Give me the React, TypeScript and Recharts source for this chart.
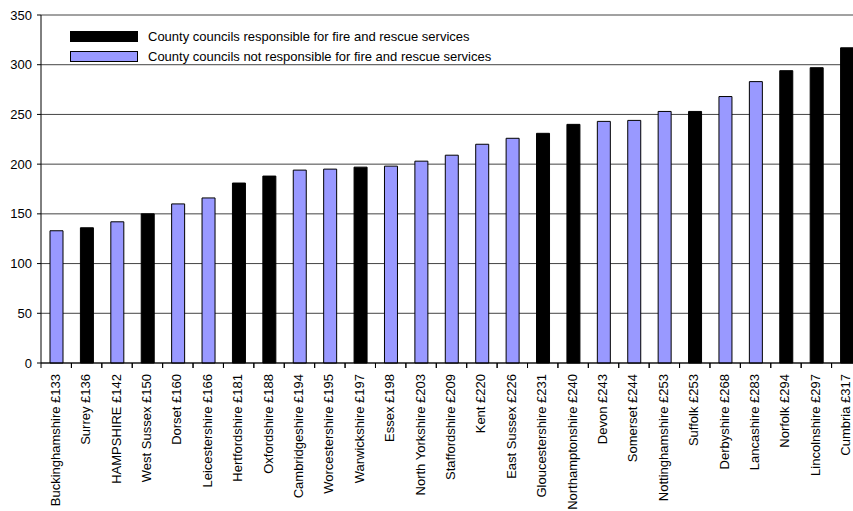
import { Bar, BarChart, CartesianGrid, Cell, Legend, XAxis, YAxis } from "recharts";

const councils = [
  "Buckinghamshire £133",
  "Surrey £136",
  "HAMPSHIRE £142",
  "West Sussex £150",
  "Dorset £160",
  "Leicestershire £166",
  "Hertfordshire £181",
  "Oxfordshire £188",
  "Cambridgeshire £194",
  "Worcestershire £195",
  "Warwickshire £197",
  "Essex £198",
  "North Yorkshire £203",
  "Staffordshire £209",
  "Kent £220",
  "East Sussex £226",
  "Gloucestershire £231",
  "Northamptonshire £240",
  "Devon £243",
  "Somerset £244",
  "Nottinghamshire £253",
  "Suffolk £253",
  "Derbyshire £268",
  "Lancashire £283",
  "Norfolk £294",
  "Lincolnshire £297",
  "Cumbria £317",
];

const spend = [
  133, 136, 142, 150, 160, 166, 181, 188, 194, 195, 197, 198, 203, 209, 220,
  226, 231, 240, 243, 244, 253, 253, 268, 283, 294, 297, 317,
];

// true = council also runs fire and rescue
const fireService = [
  false, true, false, true, false, false, true, true, false, false, true,
  false, false, false, false, false, true, true, false, false, false, true,
  false, false, true, true, true,
];

const legendLabels = [
  "County councils responsible for fire and rescue services",
  "County councils not responsible for fire and rescue services",
];

const Y_TICKS = [0, 50, 100, 150, 200, 250, 300, 350];

const FIRE_COLOR = "#000000";
const OTHER_COLOR = "#9999ff";
const FONT = "'Liberation Sans', Arial, sans-serif";

const data = councils.map((name, i) => ({
  name,
  value: spend[i],
  fire: fireService[i],
}));

function CouncilTick(props: any) {
  const { x, y, payload, width, visibleTicksCount } = props;
  const step = width && visibleTicksCount ? width / visibleTicksCount : 30.4;
  const tx = x + 3.5;
  const ty = y + 11;
  return (
    <g>
      <line x1={x - step / 2} x2={x - step / 2} y1={y} y2={y + 5} stroke="#000" />
      <line x1={x + step / 2} x2={x + step / 2} y1={y} y2={y + 5} stroke="#000" />
      <text
        x={tx}
        y={ty}
        transform={`rotate(-90, ${tx}, ${ty})`}
        textAnchor="end"
        fontSize={13}
        fontFamily={FONT}
        fill="#000"
      >
        {payload.value}
      </text>
    </g>
  );
}

function CouncilLegend() {
  const colors = [FIRE_COLOR, OTHER_COLOR];
  return (
    <div style={{ fontFamily: FONT, fontSize: 13, color: "#000" }}>
      {legendLabels.map((label, i) => (
        <div
          key={label}
          style={{ display: "flex", alignItems: "center", height: 20 }}
        >
          <span
            style={{
              display: "inline-block",
              width: 66,
              height: 9,
              background: colors[i],
              border: "1px solid #000",
              marginRight: 10,
            }}
          />
          <span>{label}</span>
        </div>
      ))}
    </div>
  );
}

export default function App() {
  return (
    <div
      style={{
        position: "absolute",
        left: 0,
        top: 0,
        width: 853,
        height: 511,
        overflow: "hidden",
        background: "#fff",
      }}
    >
      <BarChart
        width={870}
        height={511}
        data={data}
        margin={{ top: 15, right: 8, bottom: 0, left: 0 }}
      >
        <CartesianGrid vertical={false} stroke="#444" />
        <XAxis
          dataKey="name"
          interval={0}
          tickLine={false}
          tickSize={0}
          tickMargin={0}
          height={148}
          axisLine={{ stroke: "#000" }}
          tick={<CouncilTick />}
        />
        <YAxis
          domain={[0, 350]}
          ticks={Y_TICKS}
          width={41}
          tickSize={4}
          tickMargin={5}
          axisLine={{ stroke: "#000" }}
          tickLine={{ stroke: "#000" }}
          tick={{ fontSize: 13, fontFamily: FONT, fill: "#000" }}
        />
        <Legend
          layout="vertical"
          align="center"
          verticalAlign="middle"
          content={<CouncilLegend />}
          wrapperStyle={{ top: 26, left: 70, width: 500 }}
        />
        <Bar dataKey="value" barSize={13} stroke="#000" isAnimationActive={false}>
          {data.map((d) => (
            <Cell key={d.name} fill={d.fire ? FIRE_COLOR : OTHER_COLOR} />
          ))}
        </Bar>
      </BarChart>
    </div>
  );
}
